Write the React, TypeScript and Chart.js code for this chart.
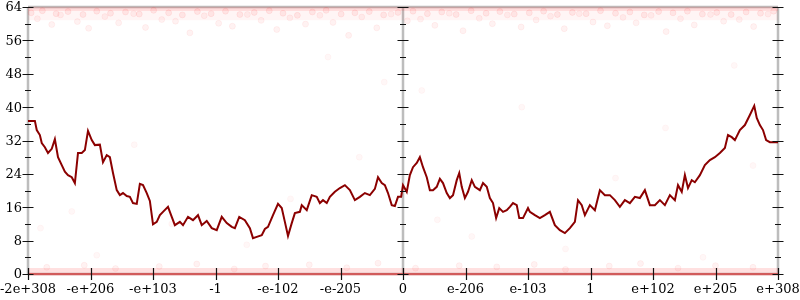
import React, { useEffect, useRef } from "react";
import { Chart, registerables } from "chart.js";

Chart.register(...registerables);

// x positions are in "tick slots": -6 .. 6, each slot is one labelled tick
const xTickPositions = [-6, -5, -4, -3, -2, -1, 0, 1, 2, 3, 4, 5, 6];
const xTickLabels = ["-2e+308", "-e+206", "-e+103", "-1", "-e-102", "-e-205", "0", "e-206", "e-103", "1", "e+102", "e+205", "e+308"];
const yMajorTicks = [0, 8, 16, 24, 32, 40, 48, 56, 64];
const yMinorTicks = [4, 12, 20, 28, 36, 44, 52, 60];

// moving-average line
const lineX = [
  -6.0, -5.89, -5.86, -5.81, -5.78, -5.73, -5.68, -5.62, -5.57, -5.52, -5.46, -5.41, -5.36, -5.3, -5.25, -5.2, -5.14, -5.09, -5.04, -4.98,
  -4.93, -4.85, -4.8, -4.74, -4.69, -4.64, -4.58, -4.53, -4.48, -4.42, -4.37, -4.32, -4.26, -4.21, -4.16, -4.1, -4.05, -4.0, -3.94, -3.89,
  -3.84, -3.76, -3.7, -3.65, -3.57, -3.52, -3.44, -3.36, -3.28, -3.22, -3.14, -3.06, -2.98, -2.9, -2.82, -2.74, -2.69, -2.62, -2.53, -2.45,
  -2.4, -2.34, -2.26, -2.21, -2.16, -2.08, -2.0, -1.94, -1.89, -1.84, -1.78, -1.73, -1.65, -1.62, -1.54, -1.46, -1.38, -1.33, -1.28, -1.22,
  -1.17, -1.09, -1.01, -0.93, -0.85, -0.77, -0.69, -0.61, -0.53, -0.45, -0.4, -0.34, -0.29, -0.24, -0.18, -0.13, -0.08, -0.03, 0.0, 0.06,
  0.11, 0.16, 0.22, 0.27, 0.32, 0.38, 0.43, 0.48, 0.54, 0.59, 0.64, 0.7, 0.75, 0.8, 0.86, 0.9, 0.94, 0.99, 1.04, 1.1,
  1.15, 1.23, 1.28, 1.34, 1.39, 1.44, 1.49, 1.54, 1.6, 1.66, 1.71, 1.76, 1.82, 1.86, 1.92, 2.0, 2.03, 2.11, 2.19, 2.27,
  2.35, 2.43, 2.51, 2.59, 2.67, 2.75, 2.8, 2.86, 2.91, 2.99, 3.07, 3.15, 3.23, 3.31, 3.39, 3.47, 3.55, 3.63, 3.71, 3.79,
  3.87, 3.95, 4.03, 4.11, 4.19, 4.27, 4.35, 4.4, 4.46, 4.51, 4.56, 4.62, 4.67, 4.75, 4.83, 4.91, 4.99, 5.07, 5.15, 5.2,
  5.26, 5.31, 5.39, 5.47, 5.55, 5.62, 5.66, 5.71, 5.76, 5.81, 5.87, 6.0,
];
const lineY = [
  36.7, 36.7, 34.5, 33.3, 31.4, 30.4, 29.0, 30.0, 32.3, 28.0, 26.1, 24.5, 23.7, 23.2, 21.8, 29.0, 29.0, 29.7, 34.3, 32.1,
  30.9, 31.0, 26.8, 28.5, 28.0, 24.2, 20.1, 18.9, 19.4, 18.7, 18.5, 17.0, 16.8, 21.6, 21.3, 19.4, 17.5, 11.9, 12.5, 14.1,
  14.9, 16.1, 13.7, 11.7, 12.5, 11.7, 13.7, 12.9, 14.1, 11.7, 12.7, 11.0, 10.5, 13.7, 12.2, 11.3, 11.0, 13.7, 12.9, 11.0,
  8.6, 8.9, 9.3, 10.8, 11.3, 14.1, 16.8, 15.8, 12.5, 9.1, 12.2, 14.6, 14.9, 16.5, 15.3, 18.9, 18.5, 17.0, 17.7, 17.0,
  18.5, 19.7, 20.6, 21.3, 20.1, 17.7, 18.5, 19.4, 18.9, 20.4, 23.2, 21.8, 21.3, 19.4, 16.5, 16.3, 18.5, 18.5, 21.3, 19.7,
  23.7, 25.6, 26.6, 28.0, 25.6, 23.2, 20.1, 20.1, 20.9, 22.8, 21.8, 19.4, 18.2, 18.9, 22.5, 24.2, 20.9, 18.2, 19.7, 22.5,
  20.9, 20.1, 21.8, 20.9, 18.2, 17.0, 13.4, 15.8, 14.9, 15.3, 16.1, 17.0, 16.5, 13.4, 13.4, 15.8, 14.9, 14.1, 13.4, 14.1,
  14.9, 11.7, 10.5, 9.8, 11.0, 12.5, 17.7, 16.5, 14.1, 16.5, 15.3, 20.1, 18.9, 18.9, 17.7, 16.1, 17.7, 17.0, 18.5, 18.2,
  20.1, 16.5, 16.5, 17.7, 16.5, 18.9, 17.7, 21.3, 19.7, 23.7, 20.6, 22.5, 22.0, 23.7, 26.1, 27.3, 28.0, 29.0, 30.2, 33.3,
  32.8, 32.1, 34.5, 35.7, 38.1, 40.3, 37.4, 35.7, 34.5, 32.1, 31.6, 31.6,
];

// faint sample dots near the top (lower fringe)
const topDotX = [-5.85, -5.62, -5.48, -5.21, -5.03, -4.77, -4.55, -4.31, -4.12, -3.86, -3.64, -3.41, -3.18, -2.95, -2.73, -2.49, -2.27, -2.02, -1.81, -1.56, -1.33, -1.12, -0.87, -0.66, -0.42, -0.19, 0.07, 0.28, 0.51, 0.74, 0.96, 1.22, 1.43, 1.67, 1.89, 2.13, 2.36, 2.58, 2.82, 3.04, 3.27, 3.52, 3.73, 3.97, 4.21, 4.44, 4.66, 4.92, 5.13, 5.38, 5.61, 5.84];
const topDotY = [61.2, 59.8, 62.1, 60.5, 58.9, 61.7, 60.2, 62.4, 59.1, 61.0, 60.6, 57.8, 61.9, 60.1, 59.4, 62.2, 60.8, 58.6, 61.4, 59.9, 62.0, 60.3, 57.2, 61.6, 59.0, 62.3, 60.7, 61.1, 59.6, 62.5, 58.3, 61.3, 60.0, 62.1, 59.2, 60.9, 61.8, 58.8, 62.4, 60.4, 59.5, 61.5, 60.2, 62.0, 58.1, 61.2, 59.7, 62.2, 60.6, 61.0, 59.3, 62.3];
// faint sample dots near the top (dense row)
const topRowX = [-5.95, -5.77, -5.55, -5.36, -5.12, -4.9, -4.68, -4.44, -4.22, -3.99, -3.75, -3.53, -3.29, -3.07, -2.84, -2.61, -2.38, -2.14, -1.92, -1.69, -1.45, -1.23, -0.99, -0.77, -0.54, -0.31, -0.08, 0.16, 0.39, 0.62, 0.85, 1.09, 1.33, 1.55, 1.78, 2.02, 2.25, 2.47, 2.71, 2.93, 3.16, 3.4, 3.63, 3.86, 4.09, 4.32, 4.55, 4.79, 5.02, 5.25, 5.49, 5.72, 5.93];
const topRowY = [62.6, 63.1, 62.4, 62.9, 62.2, 63.0, 62.5, 62.8, 62.3, 63.2, 62.6, 62.1, 62.9, 62.4, 63.0, 62.2, 62.7, 63.1, 62.5, 62.0, 62.8, 63.2, 62.3, 62.6, 62.9, 62.1, 62.7, 63.0, 62.4, 62.8, 62.2, 63.1, 62.5, 62.9, 62.3, 62.6, 63.0, 62.2, 62.7, 62.4, 63.1, 62.5, 62.8, 62.1, 62.9, 62.6, 63.0, 62.3, 62.7, 62.2, 62.8, 62.5, 63.0];
// faint sample dots near the bottom
const botDotX = [-5.7, -5.1, -4.6, -3.9, -3.3, -2.7, -2.2, -1.5, -0.9, -0.4, 0.2, 0.9, 1.5, 2.1, 2.6, 3.3, 3.8, 4.4, 5.0, 5.6];
const botDotY = [1.6, 2.1, 1.3, 1.8, 2.4, 1.2, 1.9, 2.2, 1.5, 2.6, 1.4, 2.0, 1.7, 2.3, 1.1, 1.9, 2.5, 1.4, 2.0, 1.6];
// rare dots in the middle
const midDotX = [-5.8, -5.3, -4.9, -4.3, -3.7, -2.5, -1.8, -1.2, -0.7, -0.3, 0.3, 0.55, 1.1, 1.9, 2.6, 3.4, 4.2, 4.8, 5.3, 5.6];
const midDotY = [11, 15, 4.5, 31, 12, 7, 18, 52, 28, 46, 44, 13, 9, 40, 6, 23, 35, 4, 50, 26];

// dense bands of samples
const bandX = [-6, 6];
const topBandY = [63.6, 63.6];
const topHazeY = [62.0, 62.0];
const botBandY = [0.45, 0.45];
const botEdgeY = [0, 0];

const pts = (xs: number[], ys: number[]) => xs.map((x, i) => ({ x, y: ys[i] }));

const axesPlugin = {
  id: "customAxes",
  beforeDatasetsDraw(chart: any) {
    const { ctx } = chart;
    const xs = chart.scales.x;
    const ys = chart.scales.y;
    const left = xs.getPixelForValue(-6);
    const mid = xs.getPixelForValue(0);
    const right = xs.getPixelForValue(6);
    const top = ys.getPixelForValue(64);
    const bottom = ys.getPixelForValue(0);
    ctx.save();
    ctx.strokeStyle = "#bdbdbd";
    ctx.lineWidth = 2.5;
    ctx.beginPath();
    [left, mid, right].forEach((x) => {
      ctx.moveTo(x, top);
      ctx.lineTo(x, bottom);
    });
    ctx.moveTo(left, top);
    ctx.lineTo(right, top);
    ctx.moveTo(left, bottom);
    ctx.lineTo(right, bottom);
    ctx.stroke();
    ctx.restore();
  },
  afterDatasetsDraw(chart: any) {
    const { ctx } = chart;
    const xs = chart.scales.x;
    const ys = chart.scales.y;
    const left = xs.getPixelForValue(-6);
    const mid = xs.getPixelForValue(0);
    const right = xs.getPixelForValue(6);
    const bottom = ys.getPixelForValue(0);
    ctx.save();
    ctx.strokeStyle = "#111";
    ctx.lineWidth = 1.2;
    ctx.beginPath();
    [left, mid, right].forEach((x) => {
      yMajorTicks.forEach((v) => {
        const y = Math.round(ys.getPixelForValue(v)) + 0.5;
        ctx.moveTo(x - 5.5, y);
        ctx.lineTo(x + 5.5, y);
      });
      yMinorTicks.forEach((v) => {
        const y = Math.round(ys.getPixelForValue(v)) + 0.5;
        ctx.moveTo(x - 3, y);
        ctx.lineTo(x + 3, y);
      });
    });
    xTickPositions.forEach((v) => {
      const x = Math.round(xs.getPixelForValue(v)) + 0.5;
      ctx.moveTo(x, bottom - 6);
      ctx.lineTo(x, bottom + 6);
    });
    ctx.stroke();

    ctx.fillStyle = "#000";
    ctx.font = '13px "DejaVu Serif"';
    ctx.textAlign = "right";
    ctx.textBaseline = "middle";
    yMajorTicks.forEach((v) => {
      ctx.fillText(String(v), left - 6, ys.getPixelForValue(v) + 1);
    });
    ctx.textAlign = "center";
    xTickPositions.forEach((v, i) => {
      ctx.fillText(xTickLabels[i], xs.getPixelForValue(v), bottom + 16);
    });
    ctx.restore();
  },
};

export default function App() {
  const ref = useRef<HTMLCanvasElement | null>(null);
  useEffect(() => {
    document.body.style.margin = "0";
    if (!ref.current) return;
    const dot = (data: any, alpha: number) => ({
      type: "scatter" as const,
      data,
      pointRadius: 3,
      pointBorderWidth: 1,
      backgroundColor: `rgba(255,0,0,${alpha})`,
      borderColor: `rgba(255,0,0,${alpha})`,
      clip: false,
    });
    const band = (data: any, color: string, width: number) => ({
      type: "line" as const,
      data,
      borderColor: color,
      borderWidth: width,
      pointRadius: 0,
      clip: false,
    });
    const chart = new Chart(ref.current, {
      type: "scatter",
      data: {
        datasets: [
          band(pts(bandX, topHazeY), "rgba(255,0,0,0.04)", 10),
          band(pts(bandX, topBandY), "rgba(255,0,0,0.14)", 4),
          band(pts(bandX, botBandY), "rgba(255,0,0,0.12)", 8),
          band(pts(bandX, botEdgeY), "rgba(220,0,0,0.45)", 2),
          dot(pts(topRowX, topRowY), 0.07),
          dot(pts(topDotX, topDotY), 0.05),
          dot(pts(botDotX, botDotY), 0.05),
          dot(pts(midDotX, midDotY), 0.03),
          {
            type: "line" as const,
            data: pts(lineX, lineY),
            borderColor: "#8b0000",
            borderWidth: 2,
            pointRadius: 0,
            tension: 0,
          },
        ] as any,
      },
      options: {
        animation: false,
        responsive: false,
        events: [],
        layout: { padding: { left: 28, right: 22, top: 7, bottom: 26 } },
        plugins: { legend: { display: false }, tooltip: { enabled: false } },
        scales: {
          x: { type: "linear", min: -6, max: 6, display: false },
          y: { type: "linear", min: 0, max: 64, display: false },
        },
      },
      plugins: [axesPlugin],
    });
    return () => chart.destroy();
  }, []);
  return <canvas ref={ref} width={800} height={300} style={{ display: "block" }} />;
}
